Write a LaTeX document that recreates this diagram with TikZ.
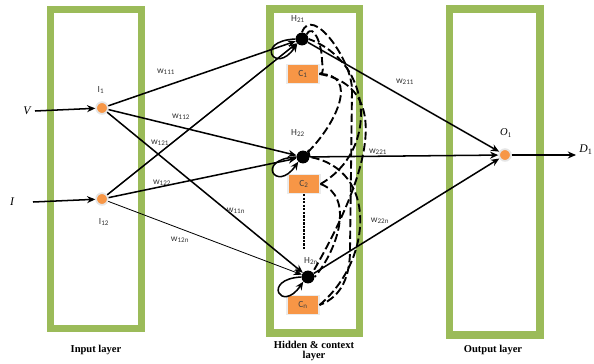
\documentclass[tikz,border=0pt]{standalone}
\usepackage{fontspec}
\setmainfont{Liberation Serif}
\newfontfamily\lblfont{Carlito}
\usepackage{amsmath}
\usetikzlibrary{
		calc,
		positioning,
		arrows.meta
	}
\definecolor{layergreen}{HTML}{9BBB59}
\definecolor{unitorange}{HTML}{F79646}
\tikzset{
		>={Stealth[length=7pt,width=6pt]},
		layerbox/.style={draw=layergreen, line width=6pt},
		inunit/.style={circle, fill=unitorange, draw=black!10, line width=1.5pt, inner sep=0pt, minimum size=10pt},
		hidunit/.style={circle, fill=black, inner sep=0pt, minimum size=11pt},
		ctxbox/.style={rectangle, fill=unitorange, draw=black!8, line width=1.2pt, minimum width=27pt, minimum height=16pt, font=\lblfont\footnotesize, text=black!75},
		wlabel/.style={font=\lblfont\footnotesize, text=black!80, inner sep=1pt},
		ulabel/.style={font=\lblfont\footnotesize, text=black!80, inner sep=1pt},
		link/.style={->, line width=1.3pt},
		ctxlink/.style={line width=1.6pt, dash pattern=on 7pt off 3pt},
		layername/.style={font=\bfseries\small, align=center}
	}
\newcommand{\wl}[1]{w\textsubscript{#1}}

\begin{document}
\begin{tikzpicture}[x=0.03cm, y=-0.03cm]
		\useasboundingbox (0,0) rectangle (594,363);
		% layers
		\draw[layerbox] (50.5,9.5) rectangle (141.5,328.5);
		\draw[layerbox] (270,9) rectangle (359.5,333);
		\draw[layerbox] (449.5,9) rectangle (540,335);
		\node[layername] (inname) at (96,350) {Input layer};
		\node[layername] (hidname) at (314,351) {Hidden \& context\\[-3pt]layer};
		\node[layername] (outname) at (493,350) {Output layer};

		% units
		\node[inunit] (I1) at (102,108) {};
		\node[inunit] (I2) at (102,199) {};
		\node[ulabel] (I1lab) at (101,90) {I\textsubscript{1}};
		\node[ulabel] (I2lab) at (104,222) {I\textsubscript{12}};
		\node[hidunit] (H21) at (302,39) {};
		\node[hidunit] (H22) at (303,157) {};
		\node[hidunit] (H2n) at (308,277) {};
		\node[ulabel] (H21lab) at (298,19) {H\textsubscript{21}};
		\node[ulabel] (H22lab) at (298,133) {H\textsubscript{22}};
		\node[ulabel] (H2nlab) at (311,261) {H\textsubscript{2n}};
		\node[ctxbox] (C1) at (303,74) {C\textsubscript{1}};
		\node[ctxbox] (C2) at (304,184) {C\textsubscript{2}};
		\node[ctxbox] (Cn) at (303,305) {C\textsubscript{n}};
		\node[inunit] (O1) at (505,155) {};
		\node[font=\itshape\small] (O1lab) at (506,133) {O\textsubscript{\upshape 1}};

		% inputs and output
		\node[font=\itshape] (V) at (27,111) {V};
		\node[font=\itshape] (I) at (12,202) {I};
		\node[font=\itshape, anchor=east, inner sep=1pt] (D) at (594,150) {D\textsubscript{\upshape 1}};
		\coordinate (Vend) at (35,111);
		\coordinate (Iend) at (33,202);
		\coordinate (Dend) at (576,155);
		\draw[link] (Vend) -- (I1);
		\draw[link] (Iend) -- (I2);
		\draw[link] (O1) -- (Dend);

		% input to hidden
		\draw[link] (I1) -- (H21);
		\draw[link] (I1) -- (H22);
		\draw[link] (I1) -- (H2n);
		\draw[link] (I2) -- (H21);
		\draw[link] (I2) -- (H22);
		\draw[->, line width=0.7pt] (I2) -- (H2n);
		\node[wlabel] (w111) at (166,72) {\wl{111}};
		\node[wlabel] (w112) at (181,117) {\wl{112}};
		\node[wlabel] (w121) at (160,143) {\wl{121}};
		\node[wlabel] (w122) at (162,183) {\wl{122}};
		\node[wlabel] (w11n) at (236,211) {\wl{11n}};
		\node[wlabel] (w12n) at (180,240) {\wl{12n}};

		% hidden to output
		\draw[link] (H21) -- (O1);
		\draw[link] (H22) -- (O1);
		\draw[link] (H2n) -- (O1);
		\node[wlabel] (w211) at (405,82) {\wl{211}};
		\node[wlabel] (w221) at (378,152) {\wl{221}};
		\node[wlabel] (w22n) at (380,221) {\wl{22n}};

		% self loops
		\draw[link] (H21.west) .. controls +(-42,2) and +(-22,32) .. (H21.south west);
		\draw[link] (H22.west) .. controls +(-42,2) and +(-22,32) .. (H22.south west);
		\draw[link] (H2n.west) .. controls +(-40,2) and +(-22,32) .. (H2n.south west);

		% context feedback
		\draw[ctxlink] (H21.north east) to[out=60, in=90, looseness=1.2] (322,60) to[out=-90, in=0] (C1.east);
		\draw[ctxlink] (C1.east) to[out=0, in=45, looseness=1.3] (H22.north east);
		\draw[ctxlink] (C1.east) to[out=-10, in=60, looseness=1.1] (H2n.north east);
		\draw[ctxlink] (C2.east) to[out=30, in=-20, looseness=1.2] (H21.east);
		\draw[ctxlink] (C2.east) to[out=-20, in=50] (H2n.east);
		\draw[ctxlink] (H21.north) to[out=70, in=90, looseness=1] (352,90) -- (350,250) to[out=-90, in=20] (Cn.east);
		\draw[ctxlink] (Cn.east) to[out=40, in=-10, looseness=1.2] (H22.east);
		\draw[ctxlink] (H22.north east) to[out=80, in=100, looseness=1.5] (H22.east);
		\coordinate (dotend) at (306,250);
		\draw[line width=1.2pt, dash pattern=on 2pt off 1pt] (C2.south) -- (C2.south |- dotend);
	\end{tikzpicture}
\end{document}
